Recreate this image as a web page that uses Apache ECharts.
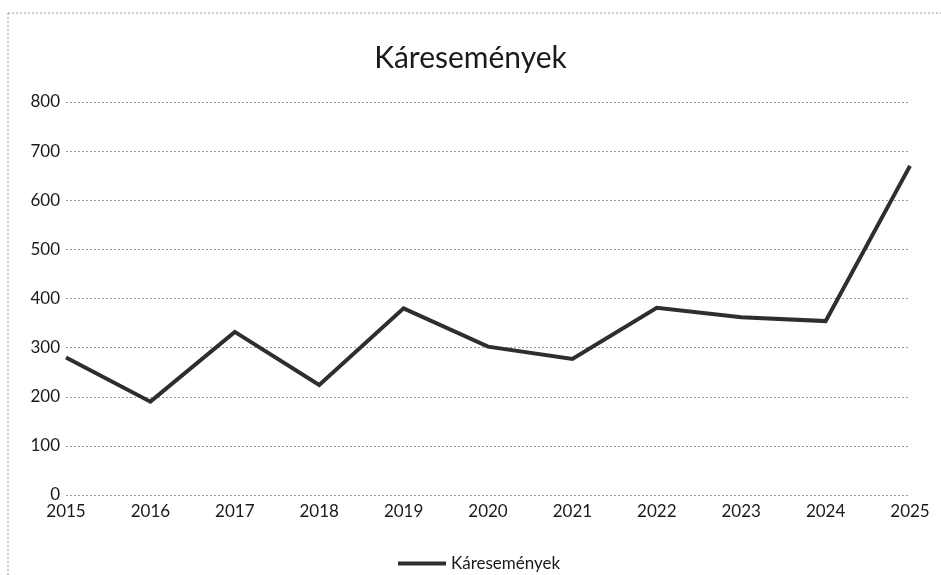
<!DOCTYPE html>
<html>
<head>
<meta charset="utf-8">
<script src="https://cdn.jsdelivr.net/npm/echarts@6/dist/echarts.min.js"></script>
<style>
  html, body { margin: 0; padding: 0; background: #ffffff; }
  #chart { width: 941px; height: 575px; }
</style>
</head>
<body>
<div id="chart"></div>
<script>
// Yearly number of claim events
const years = ['2015', '2016', '2017', '2018', '2019', '2020', '2021', '2022', '2023', '2024', '2025'];
const claimEvents = [280, 190, 332, 224, 380, 302, 277, 381, 362, 354, 670];
const seriesName = 'Káresemények';
const chartTitle = 'Káresemények';

const chart = echarts.init(document.getElementById('chart'), null, { renderer: 'canvas' });

const font = 'Lato, "Open Sans", sans-serif';

chart.setOption({
  backgroundColor: '#ffffff',
  animation: false,
  title: {
    text: chartTitle,
    left: 'center',
    top: 38,
    textStyle: { fontFamily: font, fontSize: 30, fontWeight: 'normal', color: '#1a1a1a' }
  },
  legend: {
    data: [seriesName],
    left: 393,
    top: 550,
    icon: 'rect',
    itemWidth: 48,
    itemHeight: 4,
    itemGap: 6,
    textStyle: { fontFamily: font, fontSize: 17, color: '#1a1a1a' }
  },
  grid: { left: 66, right: 31, top: 102, bottom: 80, containLabel: false },
  xAxis: {
    type: 'category',
    data: years,
    boundaryGap: false,
    axisLine: { show: false },
    axisTick: { show: false },
    axisLabel: { fontFamily: font, fontSize: 17, color: '#1a1a1a', margin: 8 }
  },
  yAxis: {
    type: 'value',
    min: 0,
    max: 800,
    interval: 100,
    axisLine: { show: false },
    axisTick: { show: false },
    axisLabel: { fontFamily: font, fontSize: 17, color: '#1a1a1a', margin: 6 },
    splitLine: { lineStyle: { color: '#9a9a9a', type: [2, 2], width: 1 } }
  },
  series: [{
    name: seriesName,
    type: 'line',
    data: claimEvents,
    symbol: 'none',
    lineStyle: { color: '#2e2e2e', width: 4, join: 'miter' },
    itemStyle: { color: '#2e2e2e' }
  }],
  graphic: [
    { type: 'line', shape: { x1: 8, y1: 13, x2: 941, y2: 13 }, style: { stroke: '#999999', lineDash: [2, 2], lineWidth: 1 } },
    { type: 'line', shape: { x1: 8, y1: 13, x2: 8, y2: 575 }, style: { stroke: '#999999', lineDash: [2, 2], lineWidth: 1 } }
  ]
});
</script>
</body>
</html>
